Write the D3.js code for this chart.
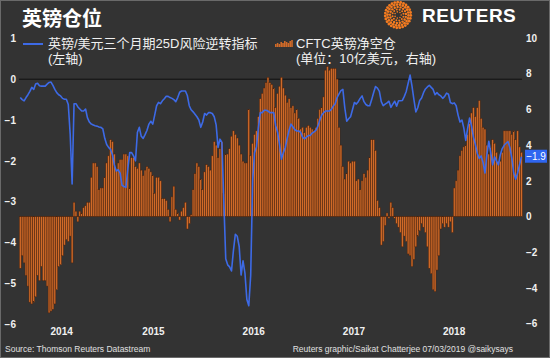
<!DOCTYPE html>
<html><head><meta charset="utf-8">
<script src="https://cdn.jsdelivr.net/npm/d3@7"></script>
<style>
html,body{margin:0;padding:0;background:#333;}
svg{display:block;}
</style></head><body>
<svg id="c" width="550" height="358"></svg>
<script>
const title = "英镑仓位";
const lineLabel = ["英镑/美元三个月期25D风险逆转指标", "(左轴)"];
const barLabel = ["CFTC英镑净空仓", "(单位：10亿美元，右轴)"];
const firstWeek = "2014-03-04";
const domainDates = ["2014-03-03", "2019-03-07"];
// CFTC net position, billions USD (right axis), weekly
const barValues = [
-2.9,-2.2,-2.6,-3.3,-3.9,-4.8,-4.9,-4.8,-4.5,-3.3,
-3.6,-2.8,-3.6,-3.6,-3.9,-5.4,-5.3,-5.2,-4.9,-4.1,
-2.8,-2.7,-2.2,-1.6,-1.3,-1.4,-1.1,-2.6,0.8,0.3,
-0.3,0.3,0.2,0.5,0.6,0.8,0.8,2.2,3.0,3.0,
2.8,1.5,1.6,1.6,2.2,3.0,3.4,4.3,4.2,3.5,
2.6,3.0,3.2,3.2,3.5,3.5,3.4,1.6,3.3,3.3,
2.8,2.7,3.0,2.6,2.3,2.6,2.8,2.7,2.5,2.3,
1.3,2.2,2.2,2.0,1.0,1.0,0.9,0.4,-0.3,1.1,
1.7,0.4,0.2,-0.2,0.3,0.5,0.8,-0.7,-0.4,0.1,
1.5,2.4,3.0,2.8,2.1,1.5,2.5,2.9,2.8,2.6,
3.4,4.2,4.0,3.3,3.8,4.2,1.3,3.5,3.5,3.8,
4.5,4.8,4.6,4.4,4.0,3.5,3.1,3.0,3.0,6.0,
3.4,4.1,4.6,4.8,5.6,6.6,6.9,7.2,7.5,7.8,
7.5,7.4,7.2,6.1,6.9,7.3,7.8,7.2,6.8,6.4,
6.6,6.1,6.2,5.8,6.0,5.5,4.9,5.0,4.7,5.0,
5.1,5.0,4.9,4.8,5.0,5.5,6.0,6.1,6.7,8.2,
8.4,8.2,8.3,8.3,8.3,7.7,5.0,4.0,2.8,2.1,
2.4,3.1,3.0,3.1,3.1,2.0,2.1,1.5,2.0,2.4,
2.2,2.6,3.3,4.3,4.3,3.7,0.9,0.5,-1.6,-1.4,
-0.5,0.2,-0.1,0.8,0.5,-0.1,-0.4,-0.6,-0.9,-1.7,
-1.1,-1.4,-2.1,-2.2,-2.8,-2.4,-1.7,-1.1,-0.8,-0.4,
-0.6,-0.9,-1.7,-2.9,-3.2,-4.1,-4.2,-3.0,-2.2,-0.7,
-0.4,-0.6,-0.4,-0.6,-0.3,-0.9,1.6,2.0,2.6,3.4,
3.7,3.9,4.0,4.6,5.2,5.8,6.1,5.6,6.1,6.5,
5.5,5.0,4.9,4.0,3.5,3.9,4.3,4.1,3.6,3.1,
3.1,3.6,4.8,4.8,4.8,4.8,4.6,4.8,4.3,4.8,
3.9,3.6
];
// GBP/USD 3M 25D risk reversal (left axis), weekly
const rrValues = [
-0.45,-0.5,-0.53,-0.45,-0.38,-0.3,-0.2,-0.25,-0.12,-0.1,
-0.16,-0.17,-0.17,-0.17,-0.12,-0.08,-0.07,-0.15,-0.25,-0.33,
-0.38,-0.41,-0.47,-0.49,-0.49,-0.62,-1.35,-2.57,-0.6,-0.6,
-0.68,-0.73,-0.78,-0.78,-0.73,-0.95,-1.05,-1.1,-1.12,-1.14,
-1.15,-1.17,-1.18,-1.22,-1.45,-1.6,-1.67,-1.72,-1.85,-2.1,
-2.25,-2.22,-2.3,-2.6,-2.63,-2.65,-2.2,-1.8,-1.8,-1.88,
-2.0,-1.3,-1.18,-1.4,-1.45,-1.36,-1.25,-1.1,-1.03,-1.1,
-0.88,-0.65,-0.57,-0.6,-0.53,-0.48,-0.42,-0.42,-0.45,-0.47,
-0.5,-0.55,-0.45,-0.32,-0.29,-0.29,-0.29,-0.4,-0.65,-0.75,
-0.8,-0.86,-0.92,-1.0,-1.18,-1.05,-0.84,-0.88,-0.82,-0.82,
-0.84,-0.92,-1.12,-1.67,-1.47,-1.55,-3.0,-4.4,-4.55,-4.6,
-4.7,-4.2,-3.8,-3.85,-4.1,-4.8,-4.45,-4.75,-5.4,-5.55,
-4.8,-2.5,-1.8,-1.66,-1.2,-0.82,-0.82,-0.76,-0.76,-0.78,
-0.82,-0.82,-0.82,-1.14,-1.3,-1.6,-1.96,-1.8,-1.68,-1.45,
-1.25,-1.1,-1.17,-1.24,-1.27,-1.27,-1.3,-1.42,-1.46,-1.42,
-1.38,-1.38,-1.32,-1.29,-1.25,-1.15,-1.0,-0.88,-0.82,-0.78,
-0.78,-0.78,-0.74,-0.66,-0.6,-0.45,-0.36,-0.28,-0.25,-0.7,
-1.03,-0.97,-0.92,-0.75,-0.57,-0.61,-0.55,-0.47,-0.41,-0.55,
-0.62,-0.65,-0.65,-0.5,-0.33,-0.18,-0.22,-0.3,-0.55,-0.65,
-0.61,-0.58,-0.54,-0.69,-0.61,-0.54,-0.66,-0.53,-0.53,-0.52,
-0.42,-0.3,-0.1,0.1,-0.17,-0.5,-0.8,-0.7,-0.52,-0.46,
-0.33,-0.24,-0.19,-0.15,-0.2,-0.25,-0.38,-0.33,-0.38,-0.41,
-0.47,-0.42,-0.34,-0.37,-0.57,-0.6,-0.58,-0.65,-0.88,-1.05,
-1.0,-1.2,-1.5,-1.2,-0.95,-1.15,-1.42,-1.6,-1.82,-1.94,
-1.88,-2.04,-2.3,-1.85,-1.52,-1.8,-2.1,-1.9,-2.0,-2.1,
-1.85,-1.7,-1.62,-1.57,-1.53,-1.68,-1.94,-2.3,-2.45,-2.3,
-2.1,-1.9
];
const leftTicks = [1, 0, -1, -2, -3, -4, -5, -6];
const rightTicks = [10, 8, 6, 4, 2, 0, -2, -4, -6];
const yearLabels = ["2014", "2015", "2016", "2017", "2018"];
const sourceText = "Source: Thomson Reuters Datastream";
const creditText = "Reuters graphic/Saikat Chatterjee 07/03/2019 @saikysays";
const brand = "REUTERS";

const FONT = "'Liberation Sans', Arial, 'Noto Sans CJK SC', sans-serif";
const CJK = "'Noto Sans CJK SC', 'Liberation Sans', sans-serif";
const ORANGE = "#d06a28", BLUE = "#3d6ae6", TEXT = "#f0f0f0";

const svg = d3.select("#c");
svg.append("rect").attr("x", 0.5).attr("y", 0.5).attr("width", 549).attr("height", 357)
  .attr("fill", "#333333").attr("stroke", "#6a6a6a");

const parse = d3.utcParse("%Y-%m-%d");
const start = parse(firstWeek);
const dates = barValues.map((v, i) => d3.utcDay.offset(start, 7 * i));

const x = d3.scaleUtc().domain(domainDates.map(parse)).range([20, 522]);
const yL = d3.scaleLinear().domain([-6, 1]).range([324, 38.4]);
const yR = d3.scaleLinear().domain([-6, 10]).range([323.6, 38]);

// zero lines
svg.append("line").attr("x1", 19).attr("x2", 522).attr("y1", yL(0)).attr("y2", yL(0))
  .attr("stroke", "#111").attr("stroke-width", 1);
svg.append("line").attr("x1", 19).attr("x2", 522).attr("y1", yR(0)).attr("y2", yR(0))
  .attr("stroke", "#111").attr("stroke-width", 1);

// bars
const bw = x(dates[1]) - x(dates[0]);
svg.append("g").selectAll("rect").data(barValues).join("rect")
  .attr("x", (d, i) => x(dates[i]) - bw / 2)
  .attr("width", bw)
  .attr("y", d => Math.min(yR(d), yR(0)))
  .attr("height", d => Math.abs(yR(d) - yR(0)))
  .attr("fill", ORANGE)
  .attr("stroke", "#4a2410").attr("stroke-width", 0.5);

// line
const line = d3.line().x((d, i) => x(dates[i])).y(d => yL(d));
svg.append("path").datum(rrValues).attr("d", line)
  .attr("fill", "none").attr("stroke", BLUE).attr("stroke-width", 1.6)
  .attr("stroke-linejoin", "round");

// axes
const axL = svg.append("g").attr("transform", "translate(16,0)")
  .call(d3.axisLeft(yL).tickValues(leftTicks).tickSize(0).tickPadding(0).tickFormat(d3.format("d")));
const axR = svg.append("g").attr("transform", "translate(526,0)")
  .call(d3.axisRight(yR).tickValues(rightTicks).tickSize(0).tickPadding(0).tickFormat(d3.format("d")));
[axL, axR].forEach(a => {
  a.select(".domain").remove();
  a.selectAll("text").attr("fill", TEXT).attr("font-family", FONT)
    .attr("font-size", 10).attr("font-weight", "bold");
});

// year labels centered on visible part of each year
const [d0, d1] = x.domain();
svg.append("g").selectAll("text").data(yearLabels).join("text")
  .attr("x", y => {
    const s = new Date(Math.max(Date.UTC(+y, 0, 1), d0));
    const e = new Date(Math.min(Date.UTC(+y + 1, 0, 1), d1));
    return (x(s) + x(e)) / 2;
  })
  .attr("y", 335).attr("text-anchor", "middle")
  .attr("fill", TEXT).attr("font-family", FONT).attr("font-size", 10).attr("font-weight", "bold")
  .text(d => d);

// end value tag
const lastV = rrValues[rrValues.length - 1];
svg.append("rect").attr("x", 525).attr("y", yL(lastV) - 7).attr("width", 22).attr("height", 13)
  .attr("fill", "#2f66f0");
svg.append("text").attr("x", 536).attr("y", yL(lastV) + 3.5).attr("text-anchor", "middle")
  .attr("fill", "#fff").attr("font-family", FONT).attr("font-size", 10)
  .text(d3.format(".1f")(lastV));

// title
svg.append("text").attr("x", 22).attr("y", 26).attr("fill", "#fff")
  .attr("font-family", CJK).attr("font-size", 20).attr("font-weight", "bold").text(title);

// legend - line
svg.append("line").attr("x1", 23).attr("x2", 43).attr("y1", 44).attr("y2", 44)
  .attr("stroke", BLUE).attr("stroke-width", 2);
svg.append("g").selectAll("text").data(lineLabel).join("text")
  .attr("x", 48).attr("y", (d, i) => 48 + i * 15)
  .attr("fill", TEXT).attr("font-family", FONT).attr("font-size", 13).text(d => d);

// legend - bars icon
const iconH = [3, 4, 3, 5, 4, 6, 5, 4, 6, 7];
svg.append("g").selectAll("rect").data(iconH).join("rect")
  .attr("x", (d, i) => 275 + i * 1.8).attr("width", 1.6)
  .attr("y", d => 47 - d).attr("height", d => d).attr("fill", ORANGE);
svg.append("g").selectAll("text").data(barLabel).join("text")
  .attr("x", 296).attr("y", (d, i) => 48 + i * 15)
  .attr("fill", TEXT).attr("font-family", FONT).attr("font-size", 13).text(d => d);

// Reuters logo
const logo = svg.append("g").attr("transform", "translate(398,15)");
const rings = [[3.2, 7, 0.8], [5.6, 12, 1.0], [8.0, 17, 1.2], [10.5, 22, 1.35], [12.8, 27, 1.4]];
rings.forEach(([r, n, dr], k) => {
  d3.range(n).forEach(j => {
    const a = 2 * Math.PI * j / n + k * 0.3;
    logo.append("circle").attr("cx", r * Math.cos(a)).attr("cy", r * Math.sin(a))
      .attr("r", dr).attr("fill", "#f47b20");
  });
});
svg.append("text").attr("x", 422).attr("y", 22).attr("fill", "#fff")
  .attr("font-family", FONT).attr("font-size", 19).attr("font-weight", "bold")
  .attr("letter-spacing", 0.5).text(brand);

// footer
svg.append("text").attr("x", 5).attr("y", 352).attr("fill", "#e0e0e0")
  .attr("font-family", FONT).attr("font-size", 8.5).text(sourceText);
svg.append("text").attr("x", 513).attr("y", 352).attr("text-anchor", "end").attr("fill", "#e0e0e0")
  .attr("font-family", FONT).attr("font-size", 8.5).text(creditText);
</script>
</body></html>
